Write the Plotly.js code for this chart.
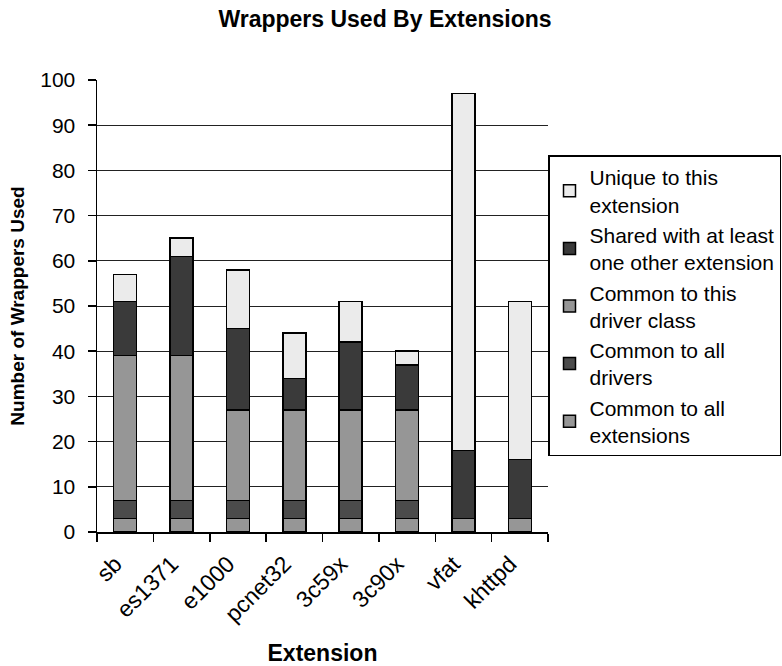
<!DOCTYPE html>
<html>
<head>
<meta charset="utf-8">
<script src="https://cdn.plot.ly/plotly-3.0.1.min.js"></script>
<style>body{margin:0;background:#fff}#chart{width:782px;height:666px}</style>
</head>
<body>
<div id="chart"></div>
<script>
const categories = ["sb", "es1371", "e1000", "pcnet32", "3c59x", "3c90x", "vfat", "khttpd"];
const commonAllExtensions = [3, 3, 3, 3, 3, 3, 3, 3];
const commonAllDrivers = [4, 4, 4, 4, 4, 4, 0, 0];
const commonDriverClass = [32, 32, 20, 20, 20, 20, 0, 0];
const sharedOther = [12, 22, 18, 7, 15, 10, 15, 13];
const uniqueExt = [6, 4, 13, 10, 9, 3, 79, 35];

const seriesNames = [
  "Common to all<br>extensions",
  "Common to all<br>drivers",
  "Common to this<br>driver class",
  "Shared with at least<br>one other extension",
  "Unique to this<br>extension"
];
const seriesValues = [commonAllExtensions, commonAllDrivers, commonDriverClass, sharedOther, uniqueExt];
const seriesColors = ["#969696", "#4b4b4b", "#969696", "#3a3a3a", "#ebebeb"];

const font = "Liberation Sans, Arial, sans-serif";
const traces = seriesValues.map((v, i) => ({
  type: "bar",
  x: categories,
  y: v,
  name: seriesNames[i],
  marker: {color: seriesColors[i], line: {color: "#000", width: 1.5}},
  hoverinfo: "x+y+name"
}));

const layout = {
  width: 782, height: 666,
  paper_bgcolor: "#fff", plot_bgcolor: "#fff",
  barmode: "stack",
  bargap: 0.59,
  margin: {l: 97, r: 234, t: 80, b: 134, autoexpand: false},
  font: {family: font, color: "#000"},
  title: {text: "<b>Wrappers Used By Extensions</b>", font: {size: 23, family: font, color: "#000"},
          x: 385/782, xref: "container", xanchor: "center", y: 1 - 19/666, yref: "container", yanchor: "middle"},
  xaxis: {
    type: "category",
    showline: true, linecolor: "#000", linewidth: 1.5,
    ticks: "outside", tickson: "boundaries", ticklen: 8, tickcolor: "#000", tickwidth: 1.5,
    tickangle: -45, tickfont: {size: 23, family: font},
    ticklabelstandoff: 8, ticklabelshift: -10,
    showgrid: false,
    title: {text: "<b>Extension</b>", font: {size: 23, family: font}, standoff: 20}
  },
  yaxis: {
    range: [0, 100], dtick: 10,
    showline: true, linecolor: "#000", linewidth: 1.5,
    ticks: "outside", ticklen: 8, tickcolor: "#000", tickwidth: 1.5,
    tickfont: {size: 21, family: font},
    ticklabelstandoff: 8,
    showgrid: true, gridcolor: "#222", gridwidth: 1,
    zeroline: false,
    title: {text: "<b>Number of Wrappers Used</b>", font: {size: 19, family: font}, standoff: 10}
  },
  legend: {
    x: 1.0, xanchor: "left", y: 0.833, yanchor: "top",
    bgcolor: "#fff", bordercolor: "#000", borderwidth: 1.5,
    font: {size: 21, family: font},
    traceorder: "reversed",
    itemwidth: 30, tracegroupgap: 0
  },
  showlegend: true
};

Plotly.newPlot("chart", traces, layout, {displayModeBar: false, staticPlot: true});
</script>
</body>
</html>
